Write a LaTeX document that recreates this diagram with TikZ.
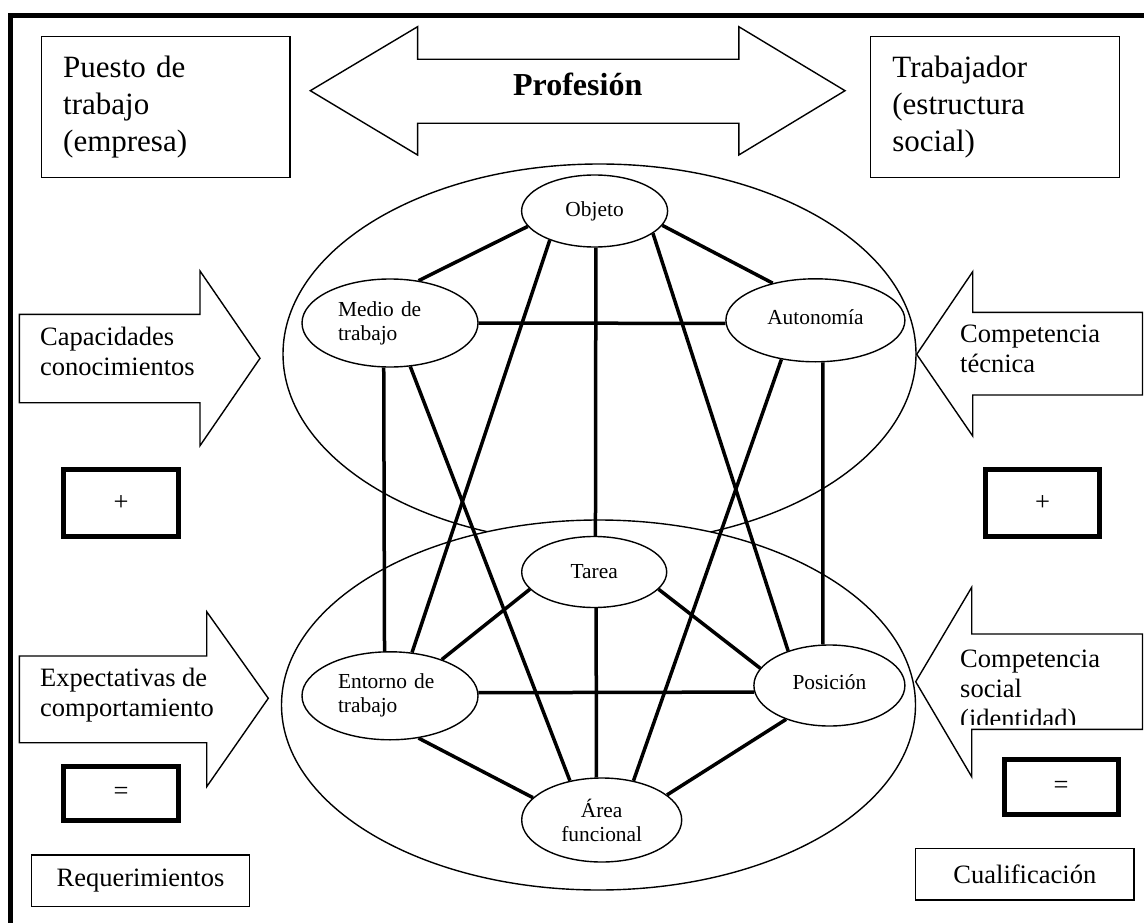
\documentclass[tikz,border=0pt]{standalone}
\usepackage{fontspec}
\setmainfont{Liberation Serif}
\usetikzlibrary{shapes.geometric}
\pgfdeclarelayer{bg}
\pgfdeclarelayer{conn}
\pgfsetlayers{bg,conn,main}
\newcommand\myfs[2]{\fontsize{#1}{#2}\selectfont}
\begin{document}
\begin{tikzpicture}[x=1pt,y=-1pt,
  thinline/.style={line width=1.4pt},
  box/.style={draw,line width=1.4pt,rectangle,inner sep=0pt},
  thickbox/.style={draw,line width=5pt,rectangle,inner sep=0pt,font={\myfs{26.5}{30}}},
  el/.style={draw,ellipse,line width=1.4pt,fill=white,inner sep=0pt,font={\myfs{21.4}{24}}},
  conn/.style={line width=3.5pt},
  arrowshape/.style={draw,line width=1.4pt,fill=white,line join=miter},
  arrowtext/.style={align=left,inner sep=0pt,font={\myfs{26.5}{30}}}]
\useasboundingbox (0,0) rectangle (1144,923);
\clip (0,0) rectangle (1144,923);
% frame
\draw[line width=5pt,line join=miter] (10.8,960) -- (10.8,15.5) -- (1180,15.5);
% top boxes
\node[box,anchor=north west,minimum height=140.7pt,text width=205pt,inner xsep=21.8pt,align=left,font={\myfs{31}{37}}] (puesto) at (40.7,36) {Puesto de\\trabajo\\(empresa)};
\node[box,anchor=north west,minimum height=140.7pt,text width=205.6pt,inner xsep=21.7pt,align=left,font={\myfs{31}{37}}] (trab) at (870,36) {Trabajador\\(estructura\\social)};
% double arrow
\draw[arrowshape] (310.3,90.7) -- (417.6,26.7) -- (417.6,59.3) -- (738.8,59.3) -- (738.8,26.7) -- (845,90.7) -- (738.8,155) -- (738.8,123.3) -- (417.6,123.3) -- (417.6,155) -- cycle;
\node[anchor=base,inner sep=0pt,font={\myfs{32}{37}\bfseries}] (prof) at (577.7,96) {Profesión};
% big ellipses
\begin{pgfonlayer}{bg}
\draw[thinline,fill=white] (599.5,354) ellipse [x radius=316.5pt, y radius=190pt];
\draw[thinline,fill=white] (598.5,705) ellipse [x radius=317pt, y radius=185pt];
\end{pgfonlayer}
% small ellipses
\node[el,minimum width=146pt,minimum height=72pt] (obj) at (594.6,211) {Objeto};
\node[el,minimum width=176pt,minimum height=88pt,text width=104pt,align=left] (medio) at (390,323) {Medio de\\trabajo};
\node[el,minimum width=179pt,minimum height=83pt] (auto) at (815.4,320.3) {\raisebox{6pt}{Autonomía}};
\node[el,minimum width=145pt,minimum height=71pt] (tarea) at (594.2,572) {Tarea};
\node[el,minimum width=176pt,minimum height=88pt,text width=104pt,align=left] (ent) at (390,695.8) {Entorno de\\trabajo};
\node[el,minimum width=151pt,minimum height=81pt] (pos) at (829.4,685.5) {\raisebox{6pt}{Posición}};
\node[el,minimum width=160pt,minimum height=84pt,align=center] (area) at (601.7,820) {Área\\funcional};
% connectors
\begin{pgfonlayer}{conn}
\draw[conn] (obj.193) -- (medio.56);
\draw[conn] (obj.348) -- (auto.139);
\draw[conn] (obj.213) -- (ent.63.5);
\draw[conn] (obj.272) -- (tarea.88);
\draw[conn] (obj.339.5) -- (pos.140.6);
\draw[conn] (medio.0) -- (auto.182);
\draw[conn] (medio.262.2) -- (ent.97.8);
\draw[conn] (medio.295.9) -- (area.129.1);
\draw[conn] (auto.229) -- (area.51.4);
\draw[conn] (auto.280) -- (pos.99.4);
\draw[conn] (tarea.195) -- (ent.35.5);
\draw[conn] (tarea.345.9) -- (pos.166.3);
\draw[conn] (tarea.273) -- (area.97.7);
\draw[conn] (ent.2) -- (pos.185.4);
\draw[conn] (ent.304.9) -- (area.162.6);
\draw[conn] (pos.218.6) -- (area.21.8);
\end{pgfonlayer}
% side arrows
\draw[arrowshape] (19.3,314.3) -- (200,314.3) -- (200,271) -- (260,358.3) -- (200,445.7) -- (200,402.7) -- (19.3,402.7) -- cycle;
\node[arrowtext,anchor=west] (cap) at (40,351) {Capacidades\\conocimientos};
\draw[arrowshape] (19.3,656) -- (206.7,656) -- (206.7,611.7) -- (268.3,698.3) -- (206.7,786.7) -- (206.7,742.7) -- (19.3,742.7) -- cycle;
\node[arrowtext,anchor=west] (exp) at (40,695) {Expectativas de\\comportamiento};
\draw[arrowshape] (1142.5,312.3) -- (972.7,312.3) -- (972.7,271.7) -- (916.7,354.3) -- (972.7,436) -- (972.7,395) -- (1142.5,395) -- cycle;
\node[arrowtext,anchor=west] (ctec) at (960,349) {Competencia\\técnica};
\draw[arrowshape] (1142.5,634) -- (971.7,634) -- (971.7,587.3) -- (915.7,681.7) -- (971.7,776.7) -- (971.7,729.3) -- (1142.5,729.3) -- cycle;
\begin{scope}
\clip (955,600) rectangle (1142,724.5);
\node[arrowtext,anchor=north west] (csoc) at (960,649.5) {Competencia\\social\\(identidad)};
\end{scope}
% thick boxes
\node[thickbox,minimum width=115pt,minimum height=67pt] (plusL) at (121,503.3) {+};
\node[thickbox,minimum width=114.6pt,minimum height=67pt] (plusR) at (1042.5,503.3) {+};
\node[thickbox,minimum width=115pt,minimum height=54.3pt] (eqL) at (121,793.7) {\raisebox{-7pt}{=}};
\node[thickbox,minimum width=114pt,minimum height=54.4pt] (eqR) at (1061.2,787) {\raisebox{-6pt}{=}};
% bottom boxes
\node[box,minimum width=217.6pt,minimum height=51.7pt,font={\myfs{26.5}{30}}] (req) at (140.5,880.85) {Requerimientos};
\node[box,minimum width=218.3pt,minimum height=51.7pt,font={\myfs{26.5}{30}}] (cual) at (1024.85,874.15) {Cualificación};
\end{tikzpicture}
\end{document}
